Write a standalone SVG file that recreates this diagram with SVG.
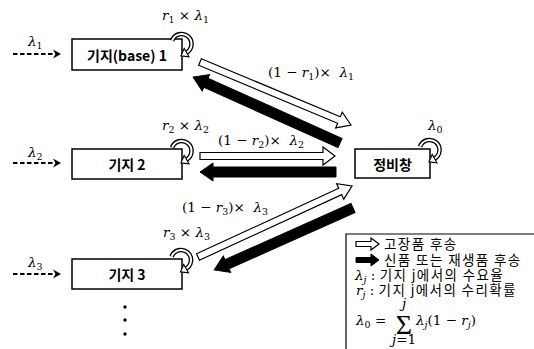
<svg xmlns="http://www.w3.org/2000/svg" width="534" height="349" viewBox="0 0 534 349">
<style>
.box{fill:#fff;stroke:#000;stroke-width:1.5}
.lbl{font-family:"Noto Sans CJK KR","Noto Sans",sans-serif;font-weight:bold;font-size:14px;fill:#000}
.m{font-family:"DejaVu Serif","Liberation Serif",serif;font-size:13.5px;fill:#000}
.i{font-style:italic}
.s{font-size:9.5px}
.leg{font-family:"Noto Sans CJK KR","Noto Sans",sans-serif;font-size:13.5px;letter-spacing:1.4px;fill:#000}
.hol{fill:#fff;stroke:#000;stroke-width:1.2;stroke-linejoin:miter}
.sol{fill:#000;stroke:#000;stroke-width:1}
.dash{stroke:#000;stroke-width:2;stroke-dasharray:4.5 2.5;fill:none}
</style>
<defs>
<g id="loop">
<path d="M -9.4 -3.4 A 10 10 0 1 1 5 8.66" fill="none" stroke="#000" stroke-width="4.6"/>
<path d="M -9.4 -3.4 A 10 10 0 1 1 5 8.66" fill="none" stroke="#fff" stroke-width="2"/>
<polygon points="-0.5,11.9 7.5,12.8 2.7,4.5" fill="#fff" stroke="#000" stroke-width="1.1"/>
</g>
<polygon id="dhead" points="-8,-4.5 0,0 -8,4.5 -5.5,0" fill="#000"/>
</defs>

<!-- input dashed arrows -->
<g id="inputs">
<line class="dash" x1="13" y1="54" x2="55" y2="54"/>
<use href="#dhead" x="61" y="54"/>
<line class="dash" x1="13" y1="163" x2="55" y2="163"/>
<use href="#dhead" x="61" y="163"/>
<line class="dash" x1="13" y1="274" x2="55" y2="274"/>
<use href="#dhead" x="61" y="274"/>
<text class="m" x="28" y="46"><tspan class="i">λ</tspan><tspan class="s" dy="3">1</tspan></text>
<text class="m" x="28" y="157"><tspan class="i">λ</tspan><tspan class="s" dy="3">2</tspan></text>
<text class="m" x="28" y="267"><tspan class="i">λ</tspan><tspan class="s" dy="3">3</tspan></text>
</g>

<!-- connectors -->
<g id="connectors">
<polygon class="hol" transform="translate(200,62) rotate(22.65)" points="0,-3.5 150.6,-3.5 150.6,-8.5 163.6,0 150.6,8.5 150.6,3.5 0,3.5"/>
<polygon class="sol" transform="translate(340,143) rotate(204.18)" points="0,-5 147,-5 147,-9 161,0 147,9 147,5 0,5"/>
<polygon class="hol" transform="translate(200,156)" points="0,-3.5 123,-3.5 123,-9 135,0 123,9 123,3.5 0,3.5"/>
<polygon class="sol" transform="translate(336,172) rotate(180)" points="0,-5 123,-5 123,-9 136,0 123,9 123,5 0,5"/>
<polygon class="hol" transform="translate(198,257) rotate(-24.75)" points="0,-3.5 156.6,-3.5 156.6,-8.5 169.6,0 156.6,8.5 156.6,3.5 0,3.5"/>
<polygon class="sol" transform="translate(353,208) rotate(155.96)" points="0,-5 138,-5 138,-9 152,0 138,9 138,5 0,5"/>
<text class="m" x="268" y="77" xml:space="preserve">(1 − <tspan class="i">r</tspan><tspan class="s" dy="3">1</tspan><tspan dy="-3">)×  </tspan><tspan class="i">λ</tspan><tspan class="s" dy="3">1</tspan></text>
<text class="m" x="218" y="145" xml:space="preserve">(1 − <tspan class="i">r</tspan><tspan class="s" dy="3">2</tspan><tspan dy="-3">)×  </tspan><tspan class="i">λ</tspan><tspan class="s" dy="3">2</tspan></text>
<text class="m" x="182" y="212" xml:space="preserve">(1 − <tspan class="i">r</tspan><tspan class="s" dy="3">3</tspan><tspan dy="-3">)×  </tspan><tspan class="i">λ</tspan><tspan class="s" dy="3">3</tspan></text>
</g>

<g id="base1">
<rect class="box" x="72" y="39" width="110" height="31"/>
<text class="lbl" x="127" y="61" text-anchor="middle">기지(base) 1</text>
<use href="#loop" x="181.5" y="44"/>
<text class="m" x="162" y="20"><tspan class="i">r</tspan><tspan class="s" dy="3">1</tspan><tspan dy="-3"> × </tspan><tspan class="i">λ</tspan><tspan class="s" dy="3">1</tspan></text>
</g>

<g id="base2">
<rect class="box" x="72" y="149" width="110" height="30"/>
<text class="lbl" x="127" y="170" text-anchor="middle">기지 2</text>
<use href="#loop" x="181.5" y="151"/>
<text class="m" x="162" y="130"><tspan class="i">r</tspan><tspan class="s" dy="3">2</tspan><tspan dy="-3"> × </tspan><tspan class="i">λ</tspan><tspan class="s" dy="3">2</tspan></text>
</g>

<g id="base3">
<rect class="box" x="72" y="259" width="110" height="30"/>
<text class="lbl" x="127" y="280" text-anchor="middle">기지 3</text>
<use href="#loop" x="181" y="260"/>
<text class="m" x="163" y="237"><tspan class="i">r</tspan><tspan class="s" dy="3">3</tspan><tspan dy="-3"> × </tspan><tspan class="i">λ</tspan><tspan class="s" dy="3">3</tspan></text>
</g>

<g id="depot">
<rect class="box" x="355" y="149" width="75" height="29"/>
<text class="lbl" x="392.5" y="170" text-anchor="middle" font-size="15">정비창</text>
<use href="#loop" x="429.5" y="150"/>
<text class="m" x="428" y="130"><tspan class="i">λ</tspan><tspan class="s" dy="3">0</tspan></text>
</g>

<g id="dots">
<circle cx="125" cy="307" r="1.7"/>
<circle cx="125" cy="320" r="1.7"/>
<circle cx="125" cy="334" r="1.7"/>
</g>

<g id="legend">
<path d="M 346 352 V 234 H 536" fill="none" stroke="#000" stroke-width="1.2"/>
<polygon class="hol" transform="translate(356,244)" points="0,-2.5 15,-2.5 15,-6 23,0 15,6 15,2.5 0,2.5"/>
<polygon class="sol" transform="translate(356,260)" points="0,-2.5 15,-2.5 15,-6 23,0 15,6 15,2.5 0,2.5"/>
<text class="leg" x="384" y="249">고장품 후송</text>
<text class="leg" x="384" y="265">신품 또는 재생품 후송</text>
<text class="m" x="355" y="280"><tspan class="i">λ</tspan><tspan class="s i" dy="3">j</tspan><tspan dy="-3"> : </tspan><tspan class="leg">기지 j에서의 수요율</tspan></text>
<text class="m" x="356" y="295"><tspan class="i">r</tspan><tspan class="s i" dy="3">j</tspan><tspan dy="-3"> : </tspan><tspan class="leg">기지 j에서의 수리확률</tspan></text>
<text class="m" x="356" y="325" font-size="14"><tspan class="i">λ</tspan><tspan class="s" dy="3">0</tspan><tspan dy="-3"> = </tspan></text>
<text x="404" y="334" text-anchor="middle" font-family="Liberation Serif, serif" font-size="28">Σ</text>
<text class="m i" x="404" y="308" text-anchor="middle" font-size="9.5">j</text>
<text class="m" x="404" y="344" text-anchor="middle" font-size="9.5"><tspan class="i">j</tspan>=1</text>
<text class="m" x="416" y="325" font-size="14"><tspan class="i">λ</tspan><tspan class="s i" dy="3">j</tspan><tspan dy="-3">(1 − </tspan><tspan class="i">r</tspan><tspan class="s i" dy="3">j</tspan><tspan dy="-3">)</tspan></text>
</g>
</svg>
